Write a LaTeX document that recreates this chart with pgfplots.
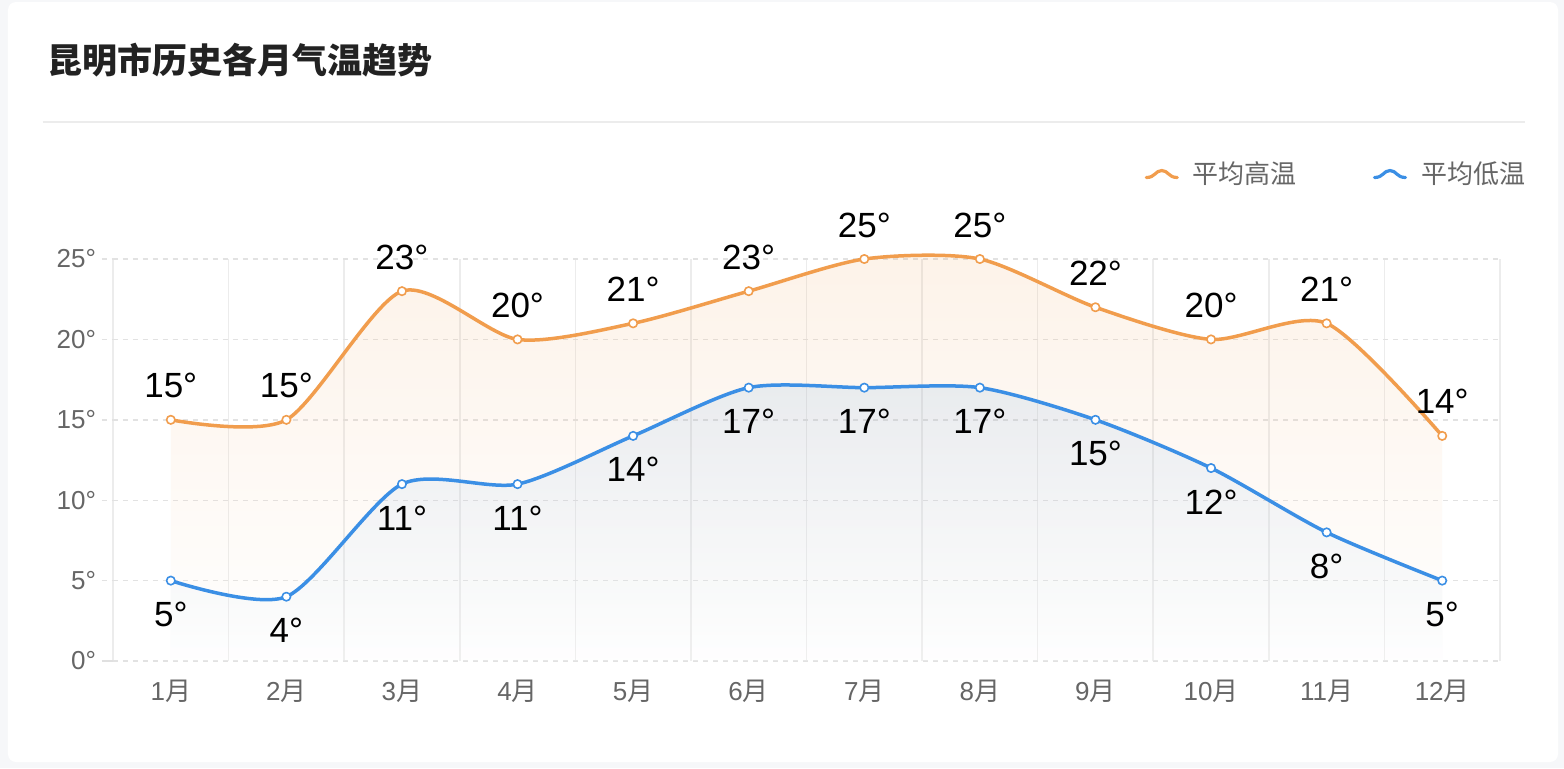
\documentclass[border=0pt]{standalone}
\usepackage{pgfplots}
\pgfplotsset{compat=1.18}
\usepackage{pgfplotstable}
\usepackage{fontspec}
\setmainfont{Liberation Sans}
\newfontfamily\cjk{Noto Sans CJK SC}

\definecolor{hiline}{HTML}{F19D4D}
\definecolor{loline}{HTML}{3B8FE5}
\definecolor{vgrid}{HTML}{ECECEC}
\definecolor{hgrid}{HTML}{E2E2E2}
\definecolor{baseline}{HTML}{E0E0E0}
\definecolor{ticktext}{HTML}{666666}
\definecolor{pagebg}{HTML}{F6F7F9}
\definecolor{titletext}{HTML}{222222}

% monthly average high / low temperatures (deg C)
\pgfplotstableread{
month high low
1  15  5
2  15  4
3  23 11
4  20 11
5  21 14
6  23 17
7  25 17
8  25 17
9  22 15
10 20 12
11 21  8
12 14  5
}\temps

\begin{document}
\begin{tikzpicture}
% page and card
\fill[pagebg] (-56.5pt,-53.5pt) rectangle (725.5pt,330.5pt);
\fill[white, rounded corners=4pt] (-52.5pt,-50.5pt) rectangle (722.5pt,329.5pt);
\useasboundingbox (-56.5pt,-53.5pt) rectangle (725.5pt,330.5pt);
% title and separator
\node[anchor=west, inner sep=0pt, text=titletext,
      font=\cjk\bfseries\fontsize{17.5}{20}\selectfont] at (-33pt,300.25pt) {昆明市历史各月气温趋势};
\draw[color=vgrid, line width=0.8pt] (-35pt,269.5pt) -- (706pt,269.5pt);

\begin{axis}[
  at={(0pt,0pt)}, anchor=south west,
  scale only axis, width=693.5pt, height=201pt,
  xmin=0.5, xmax=12.5, ymin=0, ymax=25,
  clip=false,
  axis line style={draw=none},
  /pgf/number format/assume math mode=true,
  tick label style={font=\fontsize{13}{15}\selectfont, text=ticktext},
  xtick={1,...,12},
  xticklabel={\pgfmathprintnumber{\tick}{\cjk 月}},
  xticklabel style={anchor=base, inner sep=0pt, yshift=-15.5pt},
  minor xtick={0.5,1.5,...,12.5},
  xminorgrids=true,
  minor x grid style={draw=vgrid, line width=0.8pt},
  xtick style={draw=none, /pgfplots/major tick length=0pt, /pgfplots/minor tick length=0pt},
  ytick pos=left,
  ytick={5,10,...,25},
  yticklabel={\pgfmathprintnumber{\tick}°},
  yticklabel style={anchor=east, inner sep=0pt, xshift=-4pt},
  ymajorgrids=true,
  major y grid style={draw=hgrid, line width=0.7pt, dash pattern=on 2.5pt off 2.5pt},
  tick align=outside,
  ytick style={draw=hgrid, line width=0.7pt, dash pattern=on 2.5pt off 2.5pt, /pgfplots/major tick length=5.5pt},
  extra y ticks={0},
  extra y tick style={
    major grid style={draw=baseline, line width=0.9pt, solid},
    ytick style={draw=baseline, line width=0.9pt, solid}},
  legend columns=2,
  legend style={at={(axis description cs:1.0181,1.2114)}, anchor=east,
    draw=none, fill=none, inner sep=0pt, outer sep=0pt,
    font=\cjk\fontsize{13}{15}\selectfont, text=ticktext,
    nodes={inner sep=0pt},
    /tikz/every odd column/.append style={column sep=7pt},
    /tikz/every even column/.append style={column sep=38pt}},
  legend image code/.code={
    \draw[#1, line width=1.6pt, line cap=round]
      (0pt,-1.75pt) .. controls (4.5pt,-1.75pt) and (4.5pt,1.75pt) .. (7.75pt,1.75pt)
      .. controls (11pt,1.75pt) and (11pt,-1.75pt) .. (15.5pt,-1.75pt);},
  /pgfplots/every node near coord/.append style={
    font=\fontsize{17.5}{20}\selectfont, text=black, inner sep=0pt},
]

% shaded areas under each curve
\addplot[forget plot, draw=none, smooth, tension=0.45, shade,
  top color=hiline, bottom color=white, fill opacity=0.12]
  table[x=month, y=high]{\temps} \closedcycle;
\addplot[forget plot, draw=none, smooth, tension=0.45, shade,
  top color=loline, bottom color=white, fill opacity=0.10]
  table[x=month, y=low]{\temps} \closedcycle;

% average high
\addplot[color=hiline, line width=1.75pt, line join=round, smooth, tension=0.45,
  mark=*, mark size=2.1pt,
  mark options={solid, fill=white, draw=hiline, line width=0.8pt},
  nodes near coords={\pgfmathprintnumber{\pgfplotspointmeta}°},
  every node near coord/.append style={anchor=base, yshift=11pt}]
  table[x=month, y=high]{\temps};
\addlegendentry{平均高温}

% average low
\addplot[color=loline, line width=1.75pt, line join=round, smooth, tension=0.45,
  mark=*, mark size=2.1pt,
  mark options={solid, fill=white, draw=loline, line width=0.8pt},
  nodes near coords={\pgfmathprintnumber{\pgfplotspointmeta}°},
  every node near coord/.append style={anchor=base, yshift=-23pt}]
  table[x=month, y=low]{\temps};
\addlegendentry{平均低温}
\end{axis}
\end{tikzpicture}
\end{document}
